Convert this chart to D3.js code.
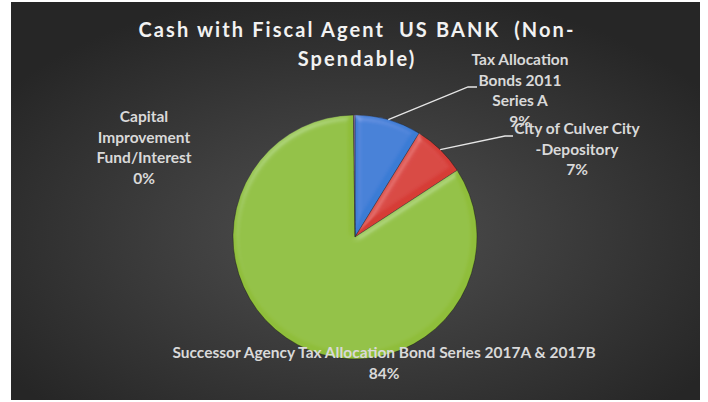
<!DOCTYPE html>
<html>
<head>
<meta charset="utf-8">
<script src="https://cdn.jsdelivr.net/npm/d3@7"></script>
<style>
  body { margin: 0; background: #fff; }
  svg { display: block; }
  text { font-family: Lato, "Open Sans", sans-serif; font-weight: bold; }
</style>
</head>
<body>
<div class="pie"></div>
<script>
// chart data
var categories = ["Tax Allocation Bonds 2011 Series A",
                  "City of Culver City -Depository",
                  "Successor Agency Tax Allocation Bond Series 2017A & 2017B",
                  "Capital Improvement Fund/Interest"];
var values = [8.8, 7.0, 84.0, 0.2];
var labelLines = [["Tax Allocation", "Bonds 2011", "Series A"],
                  ["City of Culver City", "-Depository"],
                  ["Successor Agency Tax Allocation Bond Series 2017A & 2017B"],
                  ["Capital", "Improvement", "Fund/Interest"]];
var titleLines = ["Cash with Fiscal Agent  US BANK  (Non-", "Spendable)"];

var colors = ["#3a7bd5", "#d63c36", "#8fbe3a", "#8064a2"];

// label placement (Excel labels were dragged by hand)
var labelPos = [{x: 520, y: 65, elbow: [468, 87], end: [477, 87]},
                {x: 577, y: 134, elbow: [505, 136], end: [513, 136]},
                {x: 384, y: 358},
                {x: 144, y: 122}];

var svgWidth = 708, svgHeight = 402;
var svg = d3.select(".pie").append("svg")
  .attr("width", svgWidth)
  .attr("height", svgHeight);

var defs = svg.append("defs");
var bg = defs.append("radialGradient").attr("id", "bg")
  .attr("cx", "50%").attr("cy", "58%").attr("r", "62%");
bg.append("stop").attr("offset", "0%").attr("stop-color", "#505050");
bg.append("stop").attr("offset", "100%").attr("stop-color", "#262626");

// soft bevel on the slices
var bevel = defs.append("filter").attr("id", "bevel")
  .attr("x", "-10%").attr("y", "-10%").attr("width", "120%").attr("height", "120%");
bevel.append("feGaussianBlur").attr("in", "SourceAlpha").attr("stdDeviation", 3).attr("result", "blur");
bevel.append("feSpecularLighting").attr("in", "blur").attr("surfaceScale", 3)
  .attr("specularConstant", 0.5).attr("specularExponent", 20)
  .attr("lighting-color", "#ffffff").attr("result", "spec")
  .append("fePointLight").attr("x", -5000).attr("y", -8000).attr("z", 9000);
bevel.append("feComposite").attr("in", "spec").attr("in2", "SourceAlpha")
  .attr("operator", "in").attr("result", "specOut");
bevel.append("feComposite").attr("in", "SourceGraphic").attr("in2", "specOut")
  .attr("operator", "arithmetic").attr("k1", 0).attr("k2", 1).attr("k3", 0.25).attr("k4", 0);

svg.append("rect")
  .attr("x", 11).attr("y", 2)
  .attr("width", 689).attr("height", 398)
  .attr("fill", "url(#bg)");

// title
svg.append("g").selectAll("text")
  .data(titleLines)
  .enter()
  .append("text")
  .attr("x", 357)
  .attr("y", (d, i) => 37 + i * 29)
  .attr("text-anchor", "middle")
  .style("font-size", "20px")
  .style("letter-spacing", "2.1px")
  .style("white-space", "pre")
  .attr("fill", "#f2f2f2")
  .text(d => d);

var cx = 355, cy = 237, radius = 122;
var data = categories.map((c, i) => ({name: c, value: values[i], lines: labelLines[i], pos: labelPos[i], color: colors[i]}));
var total = d3.sum(values);
var pct = d3.format(".0%");

var pie = d3.pie().sort(null).value(d => d.value);
var arc = d3.arc().innerRadius(0).outerRadius(radius);
var arcs = pie(data);

var chart = svg.append("g").attr("transform", `translate(${cx}, ${cy})`);

chart.selectAll("path")
  .data(arcs)
  .enter()
  .append("path")
  .attr("d", arc)
  .attr("fill", d => d.data.color)
  .attr("stroke", "rgba(0,0,0,0.4)")
  .attr("stroke-width", 0.8)
  .attr("filter", "url(#bevel)");

// leader lines
arcs.forEach(function(d) {
  var p = d.data.pos;
  if (!p.elbow) return;
  var mid = (d.startAngle + d.endAngle) / 2;
  var start = [cx + radius * Math.sin(mid), cy - radius * Math.cos(mid)];
  svg.append("polyline")
    .attr("points", [start, p.elbow, p.end].map(q => q.join(",")).join(" "))
    .attr("fill", "none")
    .attr("stroke", "#e6e6e6")
    .attr("stroke-width", 1.3);
});

// data labels
arcs.forEach(function(d) {
  var p = d.data.pos;
  var lines = d.data.lines.concat([pct(d.data.value / total)]);
  svg.append("text")
    .attr("text-anchor", "middle")
    .style("font-size", "15.5px")
    .attr("fill", "#d9d9d9")
    .selectAll("tspan")
    .data(lines)
    .enter()
    .append("tspan")
    .attr("x", p.x)
    .attr("y", (l, i) => p.y + i * 20.5)
    .text(l => l);
});
</script>
</body>
</html>
